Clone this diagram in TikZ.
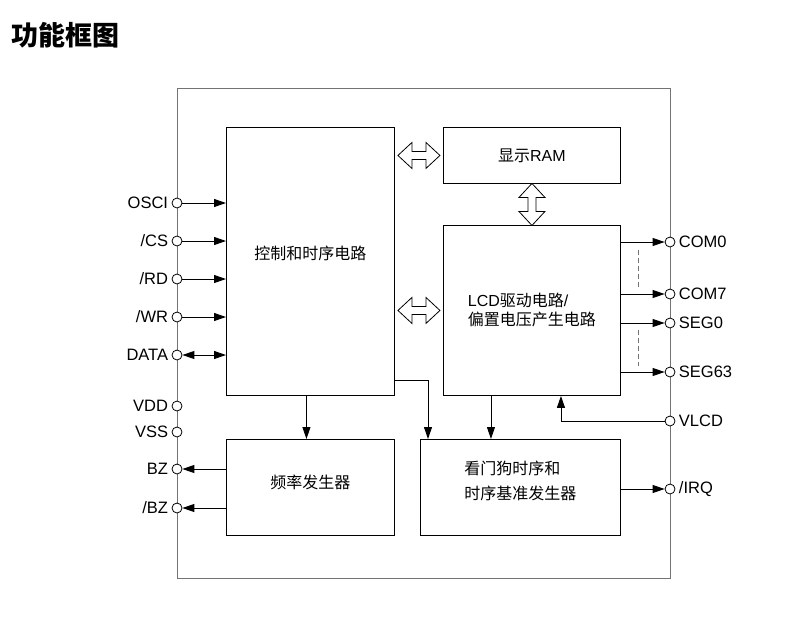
\documentclass[tikz,border=0pt]{standalone}
\usepackage{fontspec}
\setmainfont{Liberation Sans}
\newfontfamily\cjk{Noto Sans CJK SC}
\usetikzlibrary{positioning, arrows.meta, calc}

\definecolor{edge}{gray}{0.45}
\tikzset{
  blk/.style={draw, line width=0.9pt, anchor=north west, inner sep=0pt, font=\fontsize{16}{19}\selectfont},
  pinc/.style={draw, circle, fill=white, inner sep=0pt, minimum size=10pt, line width=0.8pt},
  lbl/.style={font=\fontsize{16.5}{19}\selectfont},
  arr/.style={-{Triangle[length=12pt,width=8pt]}, line width=0.9pt},
  darr/.style={{Triangle[length=12pt,width=8pt]}-{Triangle[length=12pt,width=8pt]}, line width=0.9pt},
  hollow/.pic={\draw[line width=0.8pt, fill=white] (-21,0) -- (-7,-13) -- (-7,-4) -- (7,-4) -- (7,-13)
     -- (21,0) -- (7,13) -- (7,4) -- (-7,4) -- (-7,13) -- cycle;}
}

\begin{document}
\begin{tikzpicture}[x=1pt, y=-1pt]
\useasboundingbox (0,0) rectangle (800,640);

% title
\node[anchor=west, font=\cjk\bfseries\fontsize{27}{30}\selectfont] (title) at (8,35) {功能框图};

% chip outline
\node[draw=edge, line width=1pt, anchor=north west, inner sep=0pt, minimum width=493pt, minimum height=490pt] (chip) at (177,88) {};

% blocks
\node[blk, minimum width=168pt, minimum height=268pt,
  label={[font=\cjk\fontsize{16}{19}\selectfont, yshift=8pt]center:控制和时序电路}] (ctrl) at (226,127) {};
\node[blk, minimum width=177pt, minimum height=56pt] (ram) at (443,127) {{\cjk 显示}RAM};
\node[blk, minimum width=177pt, minimum height=170pt, align=left] (lcd) at (443,225) {LCD{\cjk 驱动电路}/\\{\cjk 偏置电压产生电路}};
\node[blk, minimum width=168pt, minimum height=96pt,
  label={[font=\cjk\fontsize{16}{19}\selectfont, yshift=5pt]center:频率发生器}] (freq) at (226,439) {};
\node[blk, minimum width=200pt, minimum height=96pt,
  label={[align=left, font=\cjk\fontsize{16}{25}\selectfont, yshift=7pt]center:看门狗时序和\\时序基准发生器}] (wdog) at (420,439) {};

% left pins
\node[pinc, label={[lbl]left:OSCI}] (osci) at (177,203) {};
\node[pinc, label={[lbl]left:/CS}] (cs) at (177,241) {};
\node[pinc, label={[lbl]left:/RD}] (rd) at (177,279) {};
\node[pinc, label={[lbl]left:/WR}] (wr) at (177,317) {};
\node[pinc, label={[lbl]left:DATA}] (data) at (177,355) {};
\node[pinc, label={[lbl]left:VDD}] (vdd) at (177,406) {};
\node[pinc, label={[lbl]left:VSS}] (vss) at (177,432) {};
\node[pinc, label={[lbl]left:BZ}] (bz) at (177,469) {};
\node[pinc, label={[lbl]left:/BZ}] (nbz) at (177,508) {};

% right pins
\node[pinc, label={[lbl]right:COM0}] (com0) at (670,242) {};
\node[pinc, label={[lbl]right:COM7}] (com7) at (670,294) {};
\node[pinc, label={[lbl]right:SEG0}] (seg0) at (670,323) {};
\node[pinc, label={[lbl]right:SEG63}] (seg63) at (670,372) {};
\node[pinc, label={[lbl]right:VLCD}] (vlcd) at (670,421) {};
\node[pinc, label={[lbl]right:/IRQ}] (irq) at (670,489) {};

% inputs
\draw[arr] (osci) -- (osci -| ctrl.west);
\draw[arr] (cs) -- (cs -| ctrl.west);
\draw[arr] (rd) -- (rd -| ctrl.west);
\draw[arr] (wr) -- (wr -| ctrl.west);
\draw[darr] (data) -- (data -| ctrl.west);
\draw[arr] (bz -| freq.west) -- (bz);
\draw[arr] (nbz -| freq.west) -- (nbz);

% lcd outputs
\draw[arr] (com0 -| lcd.east) -- (com0);
\draw[arr] (com7 -| lcd.east) -- (com7);
\draw[arr] (seg0 -| lcd.east) -- (seg0);
\draw[arr] (seg63 -| lcd.east) -- (seg63);
\draw[edge, dash pattern=on 5pt off 3pt, line width=1pt] (638,250) -- (638,288);
\draw[edge, dash pattern=on 5pt off 3pt, line width=1pt] (638,330) -- (638,366);
\draw[arr] (vlcd) -| ([xshift=29pt]lcd.south);
\draw[arr] (irq -| wdog.east) -- (irq);

% internal
\draw[arr] ([xshift=-4pt]ctrl.south) -- ([xshift=-4pt]ctrl.south |- freq.north);
\draw[arr] ([yshift=15pt]ctrl.south east) -| ([xshift=8pt]wdog.north west);
\draw[arr] ([xshift=-41pt]lcd.south) -- ([xshift=-41pt]lcd.south |- wdog.north);
\pic at ($(ctrl.east |- ram.west)!.5!(ram.west)$) {hollow};
\pic at ($(ctrl.east |- lcd.west)!.5!(lcd.west)$) {hollow};
\pic[rotate=90] at ($(ram.south)!.5!(lcd.north)$) {hollow};
\end{tikzpicture}
\end{document}
